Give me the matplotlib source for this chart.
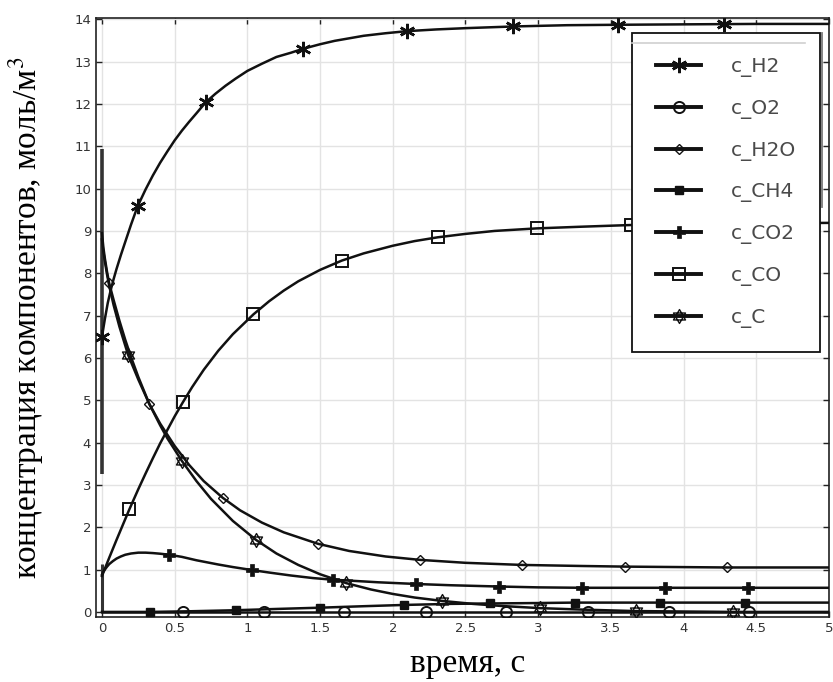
import matplotlib
matplotlib.use("Agg")
import matplotlib.pyplot as plt
from matplotlib.path import Path
from matplotlib.lines import Line2D

# ---------------- data ----------------
H2_t = [0, 0.02, 0.04, 0.06, 0.08, 0.1, 0.13, 0.16, 0.2, 0.245, 0.3, 0.35, 0.4, 0.45, 0.5, 0.55,
        0.6, 0.65, 0.714, 0.78, 0.85, 0.92, 1.0, 1.1, 1.2, 1.3, 1.38, 1.5, 1.6, 1.7, 1.8, 1.95,
        2.1, 2.3, 2.5, 2.83, 3.2, 3.55, 4.0, 4.5, 5.0]
H2_v = [6.5, 6.92, 7.3, 7.6, 7.86, 8.1, 8.43, 8.74, 9.15, 9.58, 9.98, 10.31, 10.61, 10.88, 11.14, 11.37,
        11.58, 11.78, 12.04, 12.24, 12.43, 12.6, 12.78, 12.95, 13.11, 13.21, 13.30, 13.41, 13.49, 13.55, 13.61, 13.67,
        13.72, 13.76, 13.79, 13.83, 13.86, 13.87, 13.88, 13.89, 13.89]
H2_mt = [0.0, 0.245, 0.714, 1.38, 2.10, 2.83, 3.55, 4.28]
H2_mv = [6.5, 9.58, 12.04, 13.30, 13.72, 13.83, 13.87, 13.88]

O2_t = [0, 5.0]
O2_v = [0, 0]
O2_mt = [0.56, 1.115, 1.667, 2.23, 2.78, 3.34, 3.90, 4.45]
O2_mv = [0, 0, 0, 0, 0, 0, 0, 0]

H2O_t = [0, 0.01, 0.02, 0.035, 0.05, 0.08, 0.12, 0.16, 0.2, 0.25, 0.326, 0.4, 0.5, 0.6, 0.7, 0.829,
         0.95, 1.1, 1.25, 1.485, 1.7, 1.95, 2.185, 2.5, 2.89, 3.3, 3.6, 4.3, 5.0]
H2O_v = [8.95, 8.6, 8.35, 8.03, 7.76, 7.37, 6.88, 6.43, 6.02, 5.55, 4.91, 4.45, 3.92, 3.47, 3.09, 2.70,
         2.40, 2.11, 1.88, 1.61, 1.44, 1.31, 1.23, 1.16, 1.11, 1.085, 1.07, 1.05, 1.05]
H2O_mt = [0.05, 0.326, 0.829, 1.485, 2.185, 2.89, 3.6, 4.30]
H2O_mv = [7.76, 4.91, 2.70, 1.61, 1.23, 1.11, 1.07, 1.05]

CH4_t = [0, 0.33, 0.6, 0.92, 1.2, 1.5, 1.8, 2.08, 2.4, 2.67, 3.0, 3.25, 4.0, 5.0]
CH4_v = [0, 0.0, 0.015, 0.04, 0.07, 0.10, 0.135, 0.165, 0.19, 0.20, 0.21, 0.22, 0.22, 0.22]
CH4_mt = [0.33, 0.92, 1.50, 2.08, 2.67, 3.25, 3.84, 4.42]
CH4_mv = [0.0, 0.04, 0.10, 0.165, 0.20, 0.22, 0.22, 0.22]

CO2_t = [0, 0.01, 0.02, 0.035, 0.05, 0.075, 0.1, 0.13, 0.16, 0.2, 0.25, 0.3, 0.35, 0.4, 0.464, 0.55,
         0.65, 0.8, 0.9, 1.03, 1.15, 1.3, 1.45, 1.59, 1.75, 1.9, 2.16, 2.4, 2.73, 3.0, 3.3, 4.0, 5.0]
CO2_v = [0.88, 0.95, 1.0, 1.07, 1.13, 1.2, 1.26, 1.31, 1.35, 1.38, 1.40, 1.40, 1.39, 1.375, 1.35, 1.30,
         1.22, 1.12, 1.06, 0.99, 0.93, 0.86, 0.80, 0.76, 0.73, 0.70, 0.66, 0.63, 0.60, 0.58, 0.57, 0.57, 0.57]
CO2_mt = [0.464, 1.03, 1.59, 2.16, 2.73, 3.30, 3.87, 4.44]
CO2_mv = [1.35, 0.99, 0.76, 0.66, 0.60, 0.57, 0.57, 0.57]

CO_t = [0, 0.05, 0.1, 0.188, 0.25, 0.3, 0.35, 0.4, 0.45, 0.5, 0.556, 0.62, 0.7, 0.8, 0.9, 1.042,
        1.15, 1.25, 1.35, 1.5, 1.65, 1.8, 2.0, 2.15, 2.31, 2.5, 2.7, 2.99, 3.3, 3.64, 4.0, 4.5, 5.0]
CO_v = [0.85, 1.28, 1.7, 2.42, 2.9, 3.27, 3.63, 3.98, 4.3, 4.62, 4.95, 5.31, 5.72, 6.17, 6.56, 7.03,
        7.34, 7.59, 7.81, 8.08, 8.30, 8.47, 8.65, 8.76, 8.85, 8.93, 9.0, 9.06, 9.10, 9.14, 9.16, 9.18, 9.19]
CO_mt = [0.188, 0.556, 1.042, 1.65, 2.31, 2.99, 3.64, 4.30]
CO_mv = [2.42, 4.95, 7.03, 8.30, 8.85, 9.06, 9.14, 9.17]

C_t = [0, 0.01, 0.02, 0.035, 0.05, 0.08, 0.12, 0.18, 0.25, 0.326, 0.4, 0.45, 0.549, 0.65, 0.75, 0.9,
       1.06, 1.2, 1.35, 1.5, 1.68, 1.85, 2.0, 2.15, 2.34, 2.55, 2.75, 3.01, 3.3, 3.67, 4.0, 4.34, 5.0]
C_v = [8.8, 8.5, 8.28, 7.97, 7.7, 7.25, 6.74, 6.07, 5.49, 4.91, 4.41, 4.10, 3.57, 3.09, 2.67, 2.15,
       1.70, 1.38, 1.11, 0.89, 0.68, 0.53, 0.425, 0.34, 0.26, 0.19, 0.14, 0.09, 0.055, 0.02, 0.01, 0.0, 0.0]
C_mt = [0.18, 0.549, 1.06, 1.68, 2.34, 3.01, 3.67, 4.34]
C_mv = [6.07, 3.57, 1.70, 0.68, 0.26, 0.09, 0.02, 0.0]

# vertical initial-value segments at t = 0
seg1_t = [0, 0]
seg1_v = [3.26, 10.93]
seg2_t = [0, 0]
seg2_v = [0.0, 1.13]

labels = ["c_H2", "c_O2", "c_H2O", "c_CH4", "c_CO2", "c_CO", "c_C"]
x_ticks = [0, 0.5, 1, 1.5, 2, 2.5, 3, 3.5, 4, 4.5, 5]
x_ticklabels = ["0", "0.5", "1", "1.5", "2", "2.5", "3", "3.5", "4", "4.5", "5"]
y_ticks = list(range(0, 15))

# ---------------- styling ----------------
plt.rcParams['mathtext.fontset'] = 'stix'
fig = plt.figure(figsize=(8.33, 6.82), dpi=100)
L, R, T, B = 96, 829, 18, 617
W, H = 833, 682
ax = fig.add_axes([L / W, 1 - B / H, (R - L) / W, (B - T) / H])

ax.set_xlim(-0.041, 5.0)
ax.set_ylim(-0.12, 14.03)
ax.set_xticks(x_ticks)
ax.set_xticklabels(x_ticklabels)
ax.set_yticks(y_ticks)
ax.grid(True, color='#e3e3e3', lw=1.0)
ax.set_axisbelow(True)
ax.tick_params(direction='in', length=4, width=1, colors='#222', labelsize=9.5,
               top=True, right=True, labelcolor='#333')
for s in ax.spines.values():
    s.set_color('#222')
    s.set_linewidth(1.2)

lc = '#111111'
lw = 1.8

hexagram = Path([(0, 1), (-0.866, -0.5), (0.866, -0.5), (0, 1),
                 (0, -1), (0.866, 0.5), (-0.866, 0.5), (0, -1)],
                [Path.MOVETO, Path.LINETO, Path.LINETO, Path.CLOSEPOLY,
                 Path.MOVETO, Path.LINETO, Path.LINETO, Path.CLOSEPOLY])

styles = [
    dict(marker=(6, 2, 0), ms=11, mew=1.8, mfc=lc),
    dict(marker='o', ms=8, mew=1.4, mfc='none'),
    dict(marker='D', ms=5.5, mew=1.0, mfc='none'),
    dict(marker='s', ms=5.5, mew=1.0, mfc=lc),
    dict(marker='P', ms=8, mew=0.5, mfc=lc),
    dict(marker='s', ms=8.5, mew=1.4, mfc='none'),
    dict(marker=hexagram, ms=10, mew=1.0, mfc='none'),
]

series = [
    (H2_t, H2_v, H2_mt, H2_mv),
    (O2_t, O2_v, O2_mt, O2_mv),
    (H2O_t, H2O_v, H2O_mt, H2O_mv),
    (CH4_t, CH4_v, CH4_mt, CH4_mv),
    (CO2_t, CO2_v, CO2_mt, CO2_mv),
    (CO_t, CO_v, CO_mt, CO_mv),
    (C_t, C_v, C_mt, C_mv),
]

ax.plot(seg1_t, seg1_v, color='#333', lw=2.6, solid_capstyle='butt', zorder=3)
ax.plot(seg2_t, seg2_v, color='#333', lw=2.2, solid_capstyle='butt', zorder=3)

handles = []
for (t, v, mt, mv), st, lab in zip(series, styles, labels):
    ax.plot(t, v, color=lc, lw=lw, zorder=4, solid_joinstyle='round')
    ax.plot(mt, mv, ls='none', color=lc, mec=lc, zorder=5, **st)
    handles.append(Line2D([], [], color=lc, lw=2.8, mec=lc, **st))

# legend box
lx0 = (632 - L) / (R - L)
lw_ = (820 - 632) / (R - L)
ltop = (B - 33) / (B - T)
leg = ax.legend(handles, labels, loc='upper left', bbox_to_anchor=(lx0, 0.0, lw_, ltop),
                mode='expand', borderaxespad=0, fontsize=14.5, frameon=True, fancybox=False,
                handlelength=2.25, handletextpad=1.45, labelspacing=1.08, borderpad=1.2,
                framealpha=1)
leg.get_frame().set_edgecolor('#111')
leg.get_frame().set_linewidth(1.3)
leg.set_zorder(10)
for txt in leg.get_texts():
    txt.set_color('#4a4a4a')

# faint artefact lines of the original legend
fig.add_artist(Line2D([632 / W, 805 / W], [1 - 43 / H, 1 - 43 / H], color='#d0d0d0', lw=1.2, zorder=11))
fig.add_artist(Line2D([822 / W, 822 / W], [1 - 33 / H, 1 - 207 / H], color='#777', lw=1.3, zorder=11))

ax.set_xlabel('время, с', family='Liberation Serif', fontsize=24)
ax.xaxis.set_label_coords((468 - L) / (R - L), (B - 664) / (B - T))
ax.xaxis.label.set_va('center')
ax.set_ylabel('концентрация компонентов, моль/м$^3$', family='Liberation Serif', fontsize=24)
ax.yaxis.set_label_coords((46 - L) / (R - L), (B - 318) / (B - T))

fig.savefig('out.png', dpi=100)
